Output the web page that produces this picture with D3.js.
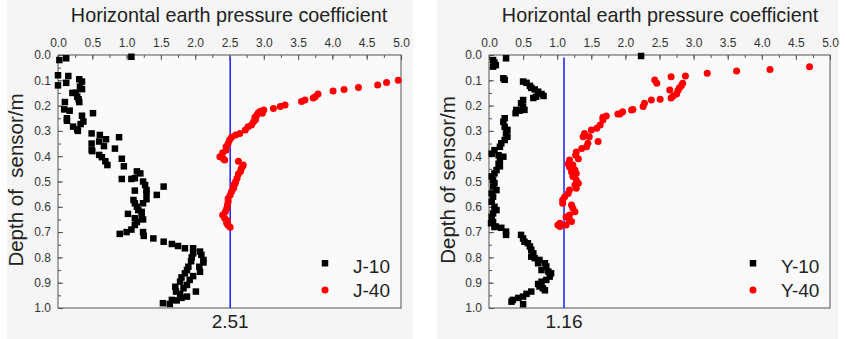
<!DOCTYPE html>
<html>
<head>
<meta charset="utf-8">
<script src="https://cdn.jsdelivr.net/npm/d3@7"></script>
<style>
  body { margin: 0; background: #fff; }
  text { font-family: 'Liberation Sans', Arial, sans-serif; }
</style>
</head>
<body>
<div id="chart"></div>
<script>
// data: [coefficient, depth of sensor (m)]
var j10 = [[0.02,0.02],[0.12,0.013],[1.07,0.007],[0.15,0.083],[0.12,0.11],[0.0,0.08],[0.0,0.12],[0.31,0.096],[0.35,0.105],
  [0.32,0.125],[0.35,0.135],[0.21,0.15],[0.26,0.149],[0.28,0.165],[0.30,0.175],[0.31,0.186],[0.10,0.186],[0.09,0.215],
  [0.17,0.22],[0.13,0.25],[0.13,0.26],[0.51,0.23],[0.35,0.24],[0.37,0.263],[0.33,0.273],[0.22,0.283],[0.28,0.294],
  [0.29,0.30],[0.49,0.31],[0.61,0.316],[0.49,0.35],[0.60,0.342],[0.70,0.333],[0.67,0.36],[0.89,0.325],[0.83,0.37],
  [0.49,0.376],[0.50,0.38],[0.60,0.395],[0.64,0.404],[0.69,0.42],[0.72,0.435],[0.93,0.41],[0.96,0.44],[1.15,0.46],
  [1.20,0.468],[1.07,0.49],[1.12,0.487],[0.93,0.49],[1.24,0.50],[1.27,0.514],[1.54,0.52],[1.12,0.536],[1.29,0.534],
  [1.29,0.545],[1.44,0.553],[1.29,0.57],[1.10,0.573],[1.12,0.586],[1.24,0.586],[1.15,0.60],[1.17,0.613],[1.22,0.62],
  [1.02,0.628],[1.22,0.639],[1.12,0.645],[1.24,0.65],[1.15,0.66],[0.90,0.707],[1.00,0.70],[1.07,0.69],[1.12,0.672],
  [1.24,0.70],[1.25,0.715],[1.39,0.725],[1.54,0.738],[1.66,0.747],[1.75,0.755],[1.85,0.764],[1.97,0.764],[2.07,0.777],
  [2.09,0.79],[2.12,0.81],[2.12,0.82],[1.97,0.784],[1.95,0.80],[1.94,0.815],[2.06,0.837],[2.07,0.857],[1.90,0.837],
  [1.88,0.85],[1.85,0.863],[1.97,0.874],[1.80,0.879],[1.92,0.889],[1.78,0.896],[1.88,0.909],[1.71,0.916],[1.83,0.922],
  [2.01,0.935],[1.72,0.935],[1.78,0.945],[1.88,0.955],[1.80,0.96],[1.66,0.968],[1.63,0.984],[1.53,0.981],[1.73,0.97]];

var j40 = [[4.96,0.10],[4.79,0.109],[4.66,0.119],[4.38,0.128],[4.17,0.136],[4.01,0.142],[3.79,0.154],[3.75,0.165],
  [3.72,0.17],[3.60,0.178],[3.55,0.184],[3.31,0.198],[3.24,0.204],[3.14,0.211],[3.00,0.217],[2.95,0.222],[2.92,0.228],
  [2.90,0.237],[2.87,0.246],[2.98,0.23],[2.88,0.255],[2.85,0.264],[2.82,0.277],[2.77,0.284],[2.73,0.296],[2.65,0.31],
  [2.59,0.316],[2.53,0.325],[2.50,0.336],[2.48,0.35],[2.45,0.363],[2.45,0.376],[2.40,0.386],[2.36,0.402],[2.41,0.41],
  [2.43,0.415],[2.63,0.42],[2.70,0.435],[2.69,0.44],[2.67,0.45],[2.66,0.46],[2.63,0.47],[2.61,0.487],[2.59,0.50],
  [2.58,0.51],[2.56,0.514],[2.56,0.527],[2.53,0.54],[2.51,0.553],[2.48,0.567],[2.48,0.58],[2.47,0.593],[2.46,0.606],
  [2.44,0.62],[2.40,0.632],[2.43,0.645],[2.47,0.655],[2.46,0.66],[2.46,0.665],[2.48,0.673],[2.51,0.681]];

var y10 = [[2.23,0.004],[0.25,0.013],[0.06,0.02],[0.08,0.03],[0.10,0.04],[0.06,0.046],[0.21,0.092],[0.23,0.098],
  [0.50,0.105],[0.55,0.11],[0.60,0.122],[0.62,0.13],[0.67,0.136],[0.72,0.145],[0.77,0.154],[0.80,0.162],[0.69,0.165],
  [0.65,0.17],[0.50,0.178],[0.47,0.191],[0.50,0.204],[0.52,0.217],[0.40,0.217],[0.45,0.22],[0.39,0.23],[0.23,0.25],
  [0.21,0.264],[0.23,0.284],[0.27,0.296],[0.25,0.31],[0.27,0.323],[0.23,0.336],[0.18,0.349],[0.16,0.363],[0.08,0.376],
  [0.04,0.39],[0.14,0.396],[0.21,0.402],[0.16,0.415],[0.14,0.43],[0.16,0.44],[0.11,0.455],[0.08,0.468],[0.04,0.48],
  [0.06,0.494],[0.08,0.507],[0.06,0.52],[0.11,0.534],[0.04,0.547],[0.06,0.56],[0.04,0.58],[0.08,0.60],[0.11,0.613],
  [0.06,0.626],[0.04,0.64],[0.06,0.66],[0.08,0.68],[0.03,0.665],[0.10,0.678],[0.18,0.683],[0.25,0.698],[0.25,0.711],
  [0.47,0.711],[0.50,0.725],[0.52,0.738],[0.57,0.744],[0.60,0.757],[0.62,0.77],[0.65,0.784],[0.62,0.797],[0.67,0.803],
  [0.74,0.81],[0.72,0.823],[0.82,0.823],[0.84,0.836],[0.77,0.85],[0.87,0.856],[0.91,0.863],[0.89,0.876],[0.84,0.889],
  [0.77,0.896],[0.72,0.905],[0.74,0.915],[0.79,0.922],[0.82,0.93],[0.62,0.935],[0.55,0.944],[0.50,0.955],[0.43,0.96],
  [0.35,0.968],[0.33,0.975],[0.50,0.985]];

var y40 = [[4.70,0.046],[4.12,0.057],[3.63,0.063],[3.20,0.072],[2.88,0.083],[2.67,0.086],[2.43,0.099],[2.46,0.112],
  [2.84,0.112],[2.82,0.122],[2.79,0.13],[2.65,0.138],[2.77,0.14],[2.75,0.154],[2.70,0.162],[2.67,0.17],[2.51,0.175],
  [2.38,0.178],[2.28,0.191],[2.26,0.204],[2.11,0.215],[1.96,0.224],[1.89,0.233],[1.72,0.241],[1.67,0.246],[2.09,0.217],
  [1.92,0.233],[1.67,0.257],[1.63,0.277],[1.58,0.29],[1.50,0.296],[1.40,0.31],[1.38,0.323],[1.47,0.323],[1.60,0.342],
  [1.45,0.349],[1.43,0.363],[1.36,0.37],[1.28,0.383],[1.27,0.396],[1.31,0.41],[1.18,0.415],[1.16,0.43],[1.23,0.435],
  [1.18,0.443],[1.26,0.455],[1.21,0.462],[1.28,0.468],[1.23,0.48],[1.28,0.494],[1.31,0.507],[1.26,0.514],[1.28,0.527],
  [1.18,0.534],[1.16,0.547],[1.11,0.56],[1.08,0.573],[1.08,0.586],[1.21,0.593],[1.23,0.606],[1.26,0.62],[1.18,0.632],
  [1.13,0.64],[1.04,0.665],[1.01,0.672],[1.04,0.678],[1.13,0.672],[1.18,0.652],[1.21,0.658]];

var xTicks = [0, 0.5, 1, 1.5, 2, 2.5, 3, 3.5, 4, 4.5, 5];
var yTicks = [0, 0.1, 0.2, 0.3, 0.4, 0.5, 0.6, 0.7, 0.8, 0.9, 1.0];
var seriesNames = [['J-10', 'J-40'], ['Y-10', 'Y-40']];
var refValues = [2.51, 1.10];
var refLabels = ['2.51', '1.16'];
var yLabels = ['Depth of  sensor/m', 'Depth of sensor/m'];

var svgWidth = 846, svgHeight = 339;
var svg = d3.select('#chart').append('svg')
  .attr('width', svgWidth)
  .attr('height', svgHeight);

var plotTop = 55, plotBottom = 308;

function drawPanel(i, p, black, red) {
  var g = svg.append('g');

  // light grey backdrop
  g.append('rect')
    .attr('x', p.bgX).attr('y', 0)
    .attr('width', p.bgW).attr('height', svgHeight)
    .attr('fill', '#f5f5f5');

  var x = d3.scaleLinear().domain([0, 5]).range([p.left, p.right]);
  var y = d3.scaleLinear().domain([0, 1]).range([plotTop, plotBottom]);

  g.append('rect')
    .attr('x', p.left).attr('y', plotTop)
    .attr('width', p.right - p.left).attr('height', plotBottom - plotTop)
    .attr('fill', '#fafafa');

  // minor ticks
  g.append('g')
    .attr('transform', `translate(0,${plotTop})`)
    .call(d3.axisTop(x).tickValues(d3.range(0, 5.01, 0.25)).tickSizeInner(-3).tickSizeOuter(0).tickFormat(''))
    .call(a => a.select('.domain').remove());
  g.append('g')
    .attr('transform', `translate(${p.left},0)`)
    .call(d3.axisLeft(y).tickValues(d3.range(0, 1.001, 0.05)).tickSizeInner(-3).tickSizeOuter(0).tickFormat(''))
    .call(a => a.select('.domain').remove());

  // major ticks + labels
  var topAxis = g.append('g')
    .attr('transform', `translate(0,${plotTop})`)
    .call(d3.axisTop(x).tickValues(xTicks).tickSizeInner(-5).tickSizeOuter(0).tickPadding(8).tickFormat(d3.format('.1f')));
  var leftAxis = g.append('g')
    .attr('transform', `translate(${p.left},0)`)
    .call(d3.axisLeft(y).tickValues(yTicks).tickSizeInner(-5).tickSizeOuter(0).tickPadding(7).tickFormat(d3.format('.1f')));
  [topAxis, leftAxis].forEach(function(a) {
    a.select('.domain').remove();
    a.selectAll('text').attr('font-size', '12px').attr('fill', '#333')
      .attr('font-family', "'Liberation Sans', Arial, sans-serif");
  });
  g.selectAll('.tick line').attr('stroke', '#555');

  // frame
  g.append('rect')
    .attr('x', p.left).attr('y', plotTop)
    .attr('width', p.right - p.left).attr('height', plotBottom - plotTop)
    .attr('fill', 'none').attr('stroke', '#555').attr('stroke-width', 1);

  // reference line
  g.append('line')
    .attr('x1', x(refValues[i])).attr('x2', x(refValues[i]))
    .attr('y1', y(0.01)).attr('y2', y(1))
    .attr('stroke', '#1a1aff').attr('stroke-width', 1.5);

  g.append('text')
    .attr('x', x(refValues[i])).attr('y', 328)
    .attr('text-anchor', 'middle')
    .attr('font-size', '19px').attr('fill', '#222')
    .text(refLabels[i]);

  // points
  g.selectAll('rect.pt').data(black).enter().append('rect')
    .attr('class', 'pt')
    .attr('x', d => x(d[0]) - 3.25).attr('y', d => y(d[1]) - 3.25)
    .attr('width', 6.5).attr('height', 6.5)
    .attr('fill', '#000');

  g.selectAll('circle.pt').data(red).enter().append('circle')
    .attr('class', 'pt')
    .attr('cx', d => x(d[0])).attr('cy', d => y(d[1]))
    .attr('r', 3.5)
    .attr('fill', '#ff0000');

  // titles
  g.append('text')
    .attr('x', p.titleX).attr('y', 22)
    .attr('text-anchor', 'middle')
    .attr('font-size', '19.8px').attr('fill', '#222')
    .text('Horizontal earth pressure coefficient');

  g.append('text')
    .attr('transform', `translate(${p.yLabelX},${p.yLabelY}) rotate(-90)`)
    .attr('text-anchor', 'middle')
    .attr('font-size', '20.5px').attr('fill', '#222')
    .style('white-space', 'pre')
    .text(yLabels[i]);

  // legend
  var lg = g.append('g');
  lg.append('rect')
    .attr('x', p.legX - 3.25).attr('y', 260).attr('width', 6.5).attr('height', 6.5)
    .attr('fill', '#000');
  lg.append('circle')
    .attr('cx', p.legX).attr('cy', 290).attr('r', 3.5)
    .attr('fill', '#ff0000');
  lg.append('text')
    .attr('x', p.legX + 28).attr('y', 273)
    .attr('font-size', '19px').attr('fill', '#222')
    .text(seriesNames[i][0]);
  lg.append('text')
    .attr('x', p.legX + 28).attr('y', 297)
    .attr('font-size', '19px').attr('fill', '#222')
    .text(seriesNames[i][1]);
}

drawPanel(0, {bgX: 7, bgW: 406, left: 58, right: 401, titleX: 229, yLabelX: 23, yLabelY: 180, legX: 325}, j10, j40);
drawPanel(1, {bgX: 437, bgW: 401, left: 489, right: 830, titleX: 660, yLabelX: 455, yLabelY: 180, legX: 753}, y10, y40);
</script>
</body>
</html>
